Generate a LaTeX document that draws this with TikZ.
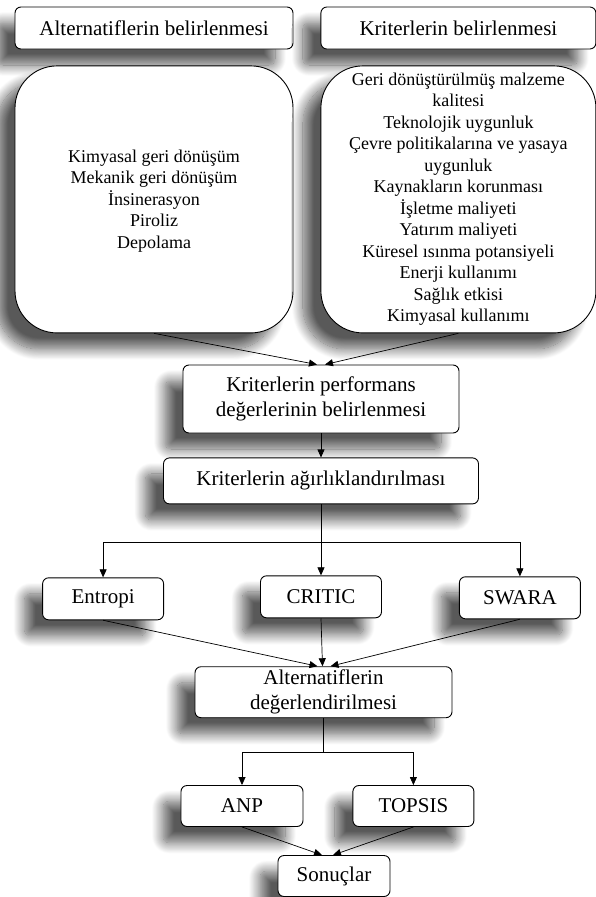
\documentclass[tikz,border=0pt]{standalone}
\usepackage{fontspec}
\setmainfont{Liberation Serif}
\usetikzlibrary{positioning, arrows.meta, shadows.blur}

\begin{document}
\begin{tikzpicture}[
        x=1pt, y=-1pt,
        every node/.style={font=\fontsize{21}{25}\selectfont},
        stage/.style={rectangle, draw, line width=0.9pt, fill=white, rounded corners=6pt, align=center, inner sep=2pt, blur shadow={shadow xshift=-18pt, shadow yshift=-16pt, shadow blur radius=11pt, shadow blur steps=16, shadow opacity=65}},
        listbox/.style={stage, rounded corners=42pt, minimum height=267pt, font=\fontsize{18}{21.5}\selectfont},
        method/.style={stage, minimum width=121pt, minimum height=42pt},
        edge/.style={-{Triangle[length=8pt, width=7pt]}, line width=0.7pt}
    ]
        \useasboundingbox (0,0) rectangle (596,897);
        % Determination layer
        \node[stage, minimum width=278pt, minimum height=42pt] (altHead) at (154,28) {Alternatiflerin belirlenmesi};
        \node[stage, minimum width=275pt, minimum height=42pt, right=27pt of altHead] (kriHead) {Kriterlerin belirlenmesi};
        % Lists
        \node[listbox, minimum width=278pt, below=16pt of altHead] (altList) {\\[-6pt]Kimyasal geri dönüşüm\\Mekanik geri dönüşüm\\İnsinerasyon\\Piroliz\\Depolama};
        \node[listbox, minimum width=275pt, below=16pt of kriHead] (kriList) {Geri dönüştürülmüş malzeme\\kalitesi\\Teknolojik uygunluk\\Çevre politikalarına ve yasaya\\uygunluk\\Kaynakların korunması\\İşletme maliyeti\\Yatırım maliyeti\\Küresel ısınma potansiyeli\\Enerji kullanımı\\Sağlık etkisi\\Kimyasal kullanımı};
        % Performance and weighting
        \node[stage, minimum width=276pt, minimum height=68pt] (perf) at (321,399) {Kriterlerin performans\\değerlerinin belirlenmesi};
        \node[stage, minimum width=315pt, minimum height=46pt, below=24pt of perf] (weight) {Kriterlerin ağırlıklandırılması};
        % Weighting methods
        \node[method, below=71pt of weight] (critic) {CRITIC};
        \node[method, left=96pt of critic, yshift=-2pt] (entropi) {Entropi};
        \node[method, right=77pt of critic, yshift=-1pt] (swara) {SWARA};
        % Evaluation layer
        \node[stage, minimum width=257pt, minimum height=51pt, below=48pt of critic, xshift=2.5pt] (evalAlt) {Alternatiflerin\\değerlendirilmesi};
        \node[method, minimum width=122pt, minimum height=41pt] (anp) at (242,806) {ANP};
        \node[method, minimum height=41pt, right=49pt of anp] (topsis) {TOPSIS};
        \node[stage, minimum width=112pt, minimum height=41pt] (result) at (334,876) {Sonuçlar};
        % Edges: lists to performance
        \draw[edge] (altList.south) -- ([xshift=-4pt]perf.north);
        \draw[edge] (kriList.south) -- ([xshift=4pt]perf.north);
        \draw[edge] (perf) -- (weight);
        % Edges: weighting to methods
        \draw[edge] (weight.south) -- ++(0,38) -| (entropi.north);
        \draw[edge] (weight.south) -- ++(0,38) -| (swara.north);
        \draw[edge] (weight) -- (critic);
        % Edges: methods to evaluation
        \draw[edge] (entropi.south) -- ([xshift=-6pt]evalAlt.north);
        \draw[edge] (critic.south) -- ([xshift=-1pt]evalAlt.north);
        \draw[edge] (swara.south) -- ([xshift=7pt]evalAlt.north);
        % Edges: evaluation to results
        \draw[edge] (evalAlt.south) -- ++(0,34) -| (anp.north);
        \draw[edge] (evalAlt.south) -- ++(0,34) -| (topsis.north);
        \draw[edge] (anp.south) -- ([xshift=-12pt]result.north);
        \draw[edge] (topsis.south) -- ([xshift=-1pt]result.north);
    \end{tikzpicture}
\end{document}
